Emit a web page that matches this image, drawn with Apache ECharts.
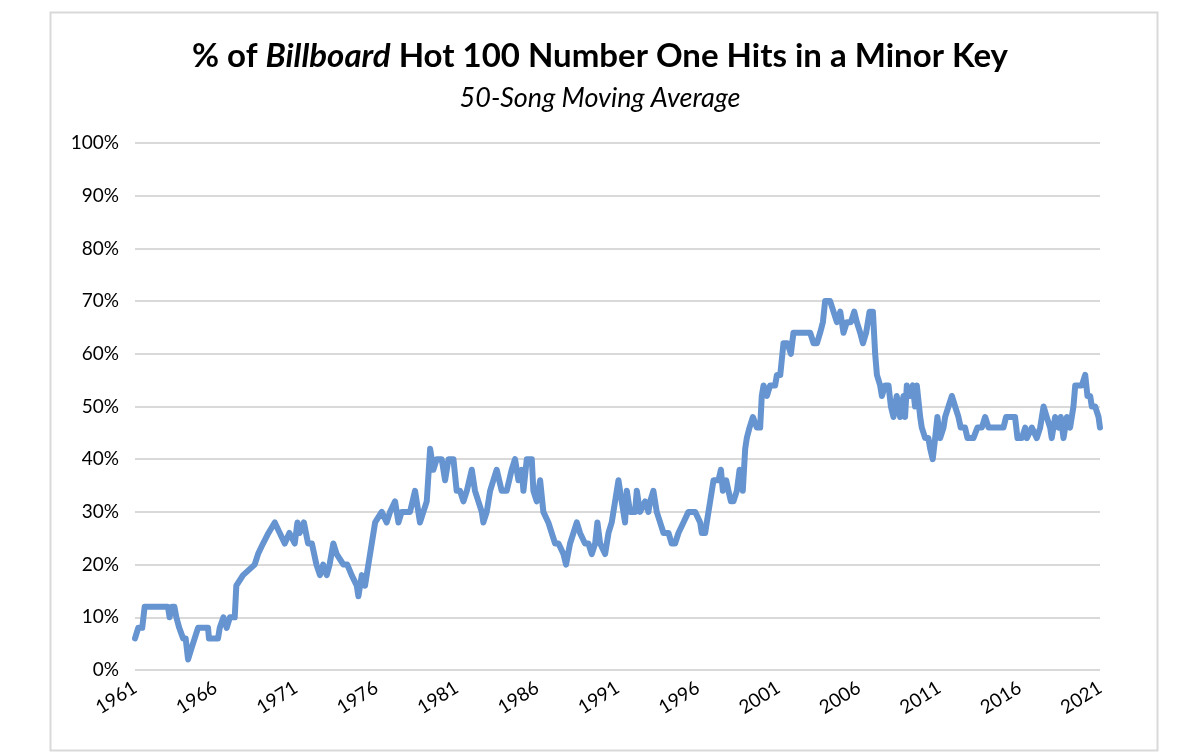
<!DOCTYPE html>
<html>
<head>
<meta charset="utf-8">
<script src="https://cdn.jsdelivr.net/npm/echarts@6/dist/echarts.min.js"></script>
<style>
html,body{margin:0;padding:0;background:#fff;}
#c{width:1200px;height:754px;}
</style>
</head>
<body>
<div id="c"></div>
<script>
const START_YEAR = 1961;
const tickYears = [1961,1966,1971,1976,1981,1986,1991,1996,2001,2006,2011,2016,2021];
const yTicks = ['0%','10%','20%','30%','40%','50%','60%','70%','80%','90%','100%'];

const years = [
1961.0,1961.2,1961.45,1961.6,1963.05,1963.15,1963.3,1963.45,1963.57,1963.75,1963.99,1964.15,1964.3,1964.5,1964.71,1964.92,1965.54,1965.6,1966.16,1966.27,1966.5,1966.7,1966.9,1967.2,1967.3,1967.72,1968.44,1968.65,1968.96,1969.3,1969.69,1970.0,1970.31,1970.6,1970.93,1971.1,1971.24,1971.5,1971.76,1972.0,1972.28,1972.5,
1972.7,1972.92,1973.1,1973.33,1973.54,1973.96,1974.2,1974.47,1974.79,1974.89,1975.1,1975.3,1975.51,1975.72,1975.93,1976.34,1976.65,1976.86,1977.17,1977.38,1977.58,1978.1,1978.41,1978.72,1978.93,1979.14,1979.35,1979.55,1979.76,1980.07,1980.28,1980.49,1980.8,1981.0,1981.21,1981.42,1981.63,1981.94,1982.14,1982.35,1982.56,1982.66,1982.87,1983.08,1983.28,1983.49,1983.8,1984.11,1984.42,1984.63,
1984.84,1985.05,1985.15,1985.36,1985.67,1985.77,1985.98,1986.19,1986.39,1986.7,1986.91,1987.12,1987.33,1987.64,1987.8,1988.05,1988.26,1988.47,1988.67,1988.98,1989.19,1989.4,1989.61,1989.75,1989.92,1990.23,1990.44,1990.64,1990.85,1991.06,1991.26,1991.47,1991.58,1991.78,1992.09,1992.2,1992.4,1992.72,1992.92,1993.03,1993.23,1993.44,1993.65,1993.86,1994.17,1994.37,1994.58,1994.79,1995.1,1995.41,1995.83,1996.14,
1996.24,1996.45,1996.55,1996.76,1996.97,1997.28,1997.43,1997.55,1997.76,1997.9,1998.05,1998.21,1998.42,1998.59,1998.79,1998.94,1999.04,1999.21,1999.42,1999.66,1999.87,1999.97,2000.08,2000.29,2000.49,2000.8,2000.91,2001.12,2001.32,2001.57,2001.78,2001.94,2002.36,2002.98,2003.19,2003.4,2003.6,2003.77,2003.91,2004.22,2004.43,2004.64,2004.85,2005.05,2005.26,2005.51,2005.72,2005.88,2006.09,2006.26,2006.46,2006.67,2006.88,2007.02,2007.13,2007.33,2007.44,2007.64,2007.85,
2008.0,2008.16,2008.36,2008.57,2008.78,2008.88,2008.99,2009.19,2009.36,2009.5,2009.61,2009.82,2009.92,2010.13,2010.33,2010.44,2010.6,2010.75,2010.89,2011.06,2011.27,2011.37,2011.58,2011.79,2011.99,2012.2,2012.34,2012.61,2012.76,2013.13,2013.38,2013.65,2013.86,2014.07,2015.0,2015.16,2015.72,2015.87,2016.14,2016.35,2016.45,2016.76,2017.07,2017.28,2017.49,2017.69,2017.9,2018.0,2018.21,2018.42,2018.56,2018.73,2018.94,2019.14,2019.35,2019.46,2019.87,2020.08,2020.22,2020.39,2020.49,2020.7,2020.91,2021.0
];
const values = [
6,8,8,12,12,10,12,12,10,8,6,6,2,4,6,8,8,6,6,8,10,8,10,10,16,18,20,22,24,26,28,26,24,26,24,28,26,28,24,24,20,18,
20,18,20,24,22,20,20,18,16,14,18,16,20,24,28,30,28,30,32,28,30,30,34,28,30,32,42,38,40,40,36,40,40,34,34,32,34,38,34,32,30,28,30,34,36,38,34,34,38,40,
36,38,34,40,40,34,32,36,30,28,26,24,24,22,20,24,26,28,26,24,24,22,24,28,24,22,26,28,32,36,32,28,34,30,30,34,30,32,30,32,34,30,28,26,26,24,24,26,28,30,30,28,
26,26,28,32,36,36,38,34,36,34,32,32,34,38,34,42,44,46,48,46,46,52,54,52,54,54,56,56,62,62,60,64,64,64,62,62,64,66,70,70,68,66,68,64,66,66,68,66,64,62,64,68,68,60,56,54,52,54,54,
50,48,52,48,52,48,54,52,54,50,54,48,46,44,44,42,40,44,48,44,46,48,50,52,50,48,46,46,44,44,46,46,48,46,46,48,48,44,44,46,44,46,44,46,50,48,46,44,48,46,48,44,48,46,50,54,54,56,52,52,50,50,48,46
];

const seriesData = years.map((y, i) => [y - START_YEAR, values[i]]);

const chart = echarts.init(document.getElementById('c'), null, {renderer: 'canvas'});
const FONT = 'Lato, "Open Sans", sans-serif';
chart.setOption({
  backgroundColor: '#fff',
  animation: false,
  graphic: [{
    type: 'rect', left: 48, top: 10,
    shape: {width: 1107, height: 738},
    style: {fill: 'none', stroke: '#d9d9d9', lineWidth: 2},
    z: -1
  }],
  title: [{
    left: 'center', top: 35,
    text: '{a|% of }{b|Billboard}{a| Hot 100 Number One Hits in a Minor Key}',
    textStyle: {
      rich: {
        a: {fontFamily: FONT, fontWeight: 'bold', fontSize: 33, color: '#000'},
        b: {fontFamily: FONT, fontWeight: 'bold', fontStyle: 'italic', fontSize: 33, color: '#000'}
      }
    }
  }, {
    left: 'center', top: 80,
    text: '50-Song Moving Average',
    textStyle: {fontFamily: FONT, fontStyle: 'italic', fontWeight: 'normal', fontSize: 27, color: '#000'}
  }],
  grid: {left: 135, right: 100, top: 143, bottom: 84, containLabel: false},
  xAxis: {
    type: 'value', min: 0, max: 60, interval: 5,
    axisLine: {show: false}, axisTick: {show: false}, splitLine: {show: false},
    axisLabel: {
      rotate: 32, margin: 16, fontFamily: FONT, fontSize: 19, color: '#000',
      formatter: v => String(tickYears[Math.round(v / 5)])
    }
  },
  yAxis: {
    type: 'value', min: 0, max: 100, interval: 10,
    axisLine: {show: false}, axisTick: {show: false},
    splitLine: {lineStyle: {color: '#d9d9d9', width: 2}},
    axisLabel: {
      margin: 16, fontFamily: FONT, fontSize: 19, color: '#000',
      formatter: v => yTicks[Math.round(v / 10)]
    }
  },
  series: [{
    type: 'line', data: seriesData, showSymbol: false,
    lineStyle: {color: '#6594d0', width: 6, join: 'round', cap: 'round'},
    itemStyle: {color: '#6594d0'}
  }]
});
</script>
</body>
</html>
